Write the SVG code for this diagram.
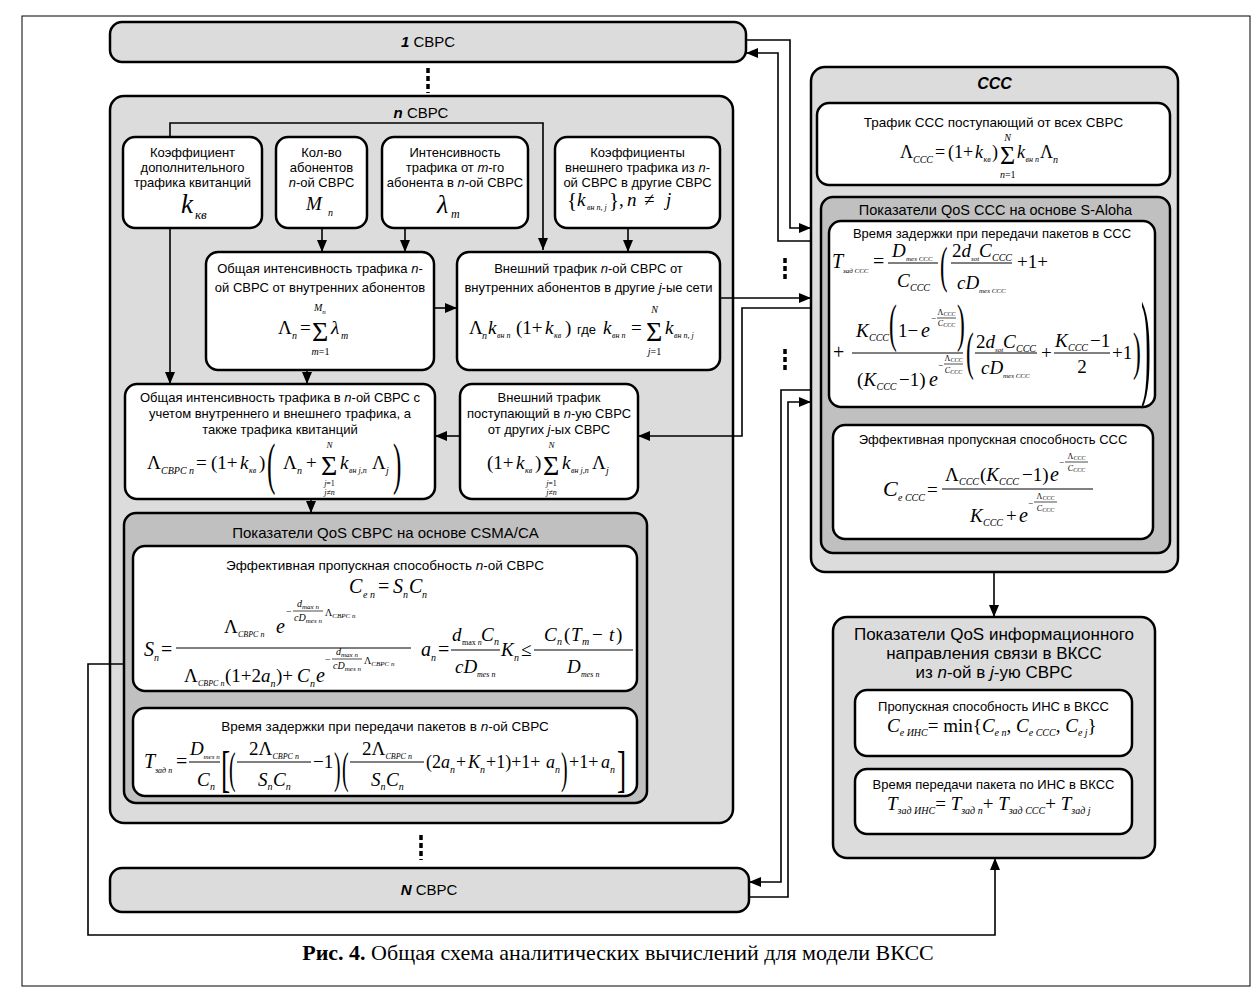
<svg xmlns="http://www.w3.org/2000/svg" width="1260" height="999" viewBox="0 0 1260 999">
<defs>
<style>
text{font-family:"Liberation Sans",Arial,sans-serif;fill:#000}
.lb{font-size:13px;text-anchor:middle}
.h{font-size:15px;text-anchor:middle}
.hq{font-size:17px;text-anchor:middle}
.i{font-style:italic}
.bi{font-style:italic;font-weight:bold}
.F{font-family:"Liberation Serif","Times New Roman",serif;font-size:19px}
.cap{font-family:"Liberation Serif","Times New Roman",serif;font-size:22px;text-anchor:middle}
.m{text-anchor:middle}
.b10{font-size:10px}
.b9{font-size:9px}
.b8{font-size:8px}
.b7{font-size:7px}
.b6{font-size:6px}
.S{font-size:28px}
.g1{fill:#dcdcdc;stroke:#000;stroke-width:2.5}
.g2{fill:#c0c0c0;stroke:#000;stroke-width:2.5}
.w{fill:#fff;stroke:#000;stroke-width:2.5}
.c{fill:none;stroke:#000;stroke-width:1.6}
.bar{stroke:#000;stroke-width:1;fill:none}
.sbar{stroke:#000;stroke-width:0.7;fill:none}
.dots{stroke:#000;stroke-width:3.5;stroke-dasharray:5 3;fill:none}
</style>
<marker id="ar" viewBox="0 0 12 10" refX="12" refY="5" markerWidth="12" markerHeight="10" markerUnits="userSpaceOnUse" orient="auto"><path d="M0,0L12,5L0,10z" fill="#000"/></marker>
</defs>
<rect x="22" y="16" width="1228" height="970" fill="none" stroke="#000" stroke-width="1"/>

<g id="node-1svrs">
<rect class="g1" x="110" y="22" width="636" height="40" rx="12"/>
<text class="h" x="428" y="47"><tspan class="bi">1</tspan> СВРС</text>
</g>
<path class="dots" d="M428,68V93"/>

<g id="node-nsvrs">
<rect class="g1" x="110" y="96" width="623" height="727" rx="14"/>
<text class="h" x="421" y="118"><tspan class="bi">n</tspan> СВРС</text>
</g>

<g id="node-kkv">
<rect class="w" x="123" y="137" width="139" height="91" rx="12"/>
<text class="lb" x="192.5" y="157">Коэффициент</text>
<text class="lb" x="192.5" y="172">дополнительного</text>
<text class="lb" x="192.5" y="187">трафика квитанций</text>
<text class="F"><tspan class="i" x="181" y="213" style="font-size:27px">k</tspan><tspan class="i" x="195" y="219" style="font-size:13px">кв</tspan></text>
</g>

<g id="node-mn">
<rect class="w" x="276" y="137" width="91" height="91" rx="12"/>
<text class="lb" x="321.5" y="157">Кол-во</text>
<text class="lb" x="321.5" y="172">абонентов</text>
<text class="lb" x="321.5" y="187"><tspan class="i">n</tspan>-ой СВРС</text>
<text class="F"><tspan class="i" x="306" y="210">M</tspan><tspan class="i b10" x="328" y="216">n</tspan></text>
</g>

<g id="node-lambda">
<rect class="w" x="382" y="137" width="146" height="91" rx="12"/>
<text class="lb" x="455" y="157">Интенсивность</text>
<text class="lb" x="455" y="172">трафика от <tspan class="i">m</tspan>-го</text>
<text class="lb" x="455" y="187">абонента в  <tspan class="i">n</tspan>-ой СВРС</text>
<text class="F"><tspan class="i" x="437" y="213" style="font-size:26px">λ</tspan><tspan class="i" x="451" y="218" style="font-size:12px">m</tspan></text>
</g>

<g id="node-coef">
<rect class="w" x="555" y="137" width="165" height="91" rx="12"/>
<text class="lb" x="637.5" y="157">Коэффициенты</text>
<text class="lb" x="637.5" y="172">внешнего трафика из  <tspan class="i">n</tspan>-</text>
<text class="lb" x="637.5" y="187">ой СВРС в другие СВРС</text>
<text class="F"><tspan x="567" y="207" style="font-size:21px">{</tspan><tspan class="i" x="577" y="206">k</tspan><tspan class="i b8" x="587" y="210">вн n, j</tspan><tspan x="609" y="207" style="font-size:21px">}</tspan><tspan x="619" y="206">,</tspan><tspan class="i" x="627" y="206">n</tspan><tspan x="644" y="206">≠</tspan><tspan class="i" x="666" y="206">j</tspan></text>
</g>

<g id="node-obsh">
<rect class="w" x="206" y="252" width="228" height="118" rx="12"/>
<text class="lb" x="320" y="273">Общая интенсивность трафика <tspan class="i">n</tspan>-</text>
<text class="lb" x="320" y="292">ой СВРС от внутренних абонентов</text>
<text class="F"><tspan x="278" y="334">Λ</tspan><tspan class="i b10" x="292" y="339">n</tspan><tspan x="300" y="334">=</tspan><tspan class="S" x="312" y="341">Σ</tspan><tspan class="i" x="331" y="334">λ</tspan><tspan class="i b10" x="341" y="339">m</tspan></text>
<text class="F i b10" x="314" y="311">M<tspan class="b7" dy="3">n</tspan></text>
<text class="F b10 m" x="320.5" y="355"><tspan class="i">m</tspan>=1</text>
</g>

<g id="node-vnesh">
<rect class="w" x="457" y="252" width="263" height="118" rx="12"/>
<text class="lb" x="588.5" y="273">Внешний трафик <tspan class="i">n</tspan>-ой СВРС от</text>
<text class="lb" x="588.5" y="292">внутренних абонентов в другие <tspan class="i">j</tspan>-ые сети</text>
<text class="F"><tspan x="469" y="334">Λ</tspan><tspan class="i b10" x="482" y="339">n</tspan><tspan class="i" x="488" y="334">k</tspan><tspan class="i b8" x="497" y="338">вн n</tspan><tspan x="516" y="334">(1+</tspan><tspan class="i" x="545" y="334">k</tspan><tspan class="i b8" x="554" y="338">кв</tspan><tspan x="565" y="334">)</tspan><tspan class="i" x="603" y="334">k</tspan><tspan class="i b8" x="612" y="338">вн n</tspan><tspan x="631" y="334">=</tspan><tspan class="S" x="646" y="341">Σ</tspan><tspan class="i" x="665" y="334">k</tspan><tspan class="i b8" x="674" y="338">вн n, j</tspan></text>
<text x="577" y="334" style="font-size:13px">где</text>
<text class="F i b10 m" x="654.5" y="313">N</text>
<text class="F b10 m" x="654.5" y="355"><tspan class="i">j</tspan>=1</text>
</g>

<g id="node-comb">
<rect class="w" x="125" y="384" width="310" height="115" rx="12"/>
<text class="lb" x="280" y="402">Общая интенсивность трафика в <tspan class="i">n</tspan>-ой СВРС с</text>
<text class="lb" x="280" y="418">учетом внутреннего и внешнего трафика, а</text>
<text class="lb" x="280" y="434">также трафика квитанций</text>
<text class="F"><tspan x="147" y="469">Λ</tspan><tspan class="i b10" x="161" y="474">СВРС n</tspan><tspan x="196" y="469">=</tspan><tspan x="211" y="469">(1+</tspan><tspan class="i" x="240" y="469">k</tspan><tspan class="i b8" x="249" y="473">кв</tspan><tspan x="259" y="469">)</tspan><tspan x="283" y="469">Λ</tspan><tspan class="i b10" x="297" y="474">n</tspan><tspan x="306" y="469">+</tspan><tspan class="S" x="321" y="475">Σ</tspan><tspan class="i" x="340" y="469">k</tspan><tspan class="i b8" x="349" y="473">вн j,n</tspan><tspan x="372" y="469">Λ</tspan><tspan class="i b10" x="386" y="474">j</tspan></text>
<text class="F" style="font-size:56px" transform="translate(267,483) scale(0.45,1)">(</text>
<text class="F" style="font-size:56px" transform="translate(393,483) scale(0.45,1)">)</text>
<text class="F i b9 m" x="329.5" y="448">N</text>
<text class="F b8 m" x="329.5" y="486"><tspan class="i">j</tspan>=1</text>
<text class="F b8 m i" x="329.5" y="495">j≠n</text>
</g>

<g id="node-post">
<rect class="w" x="460" y="384" width="178" height="115" rx="12"/>
<text class="lb" x="549" y="402">Внешний трафик</text>
<text class="lb" x="549" y="418">поступающий в <tspan class="i">n</tspan>-ую СВРС</text>
<text class="lb" x="549" y="434">от других <tspan class="i">j</tspan>-ых СВРС</text>
<text class="F"><tspan x="487" y="469">(1+</tspan><tspan class="i" x="516" y="469">k</tspan><tspan class="i b8" x="525" y="473">кв</tspan><tspan x="535" y="469">)</tspan><tspan class="S" x="543" y="475">Σ</tspan><tspan class="i" x="562" y="469">k</tspan><tspan class="i b8" x="571" y="473">вн j,n</tspan><tspan x="592" y="469">Λ</tspan><tspan class="i b10" x="606" y="474">j</tspan></text>
<text class="F i b9 m" x="551.5" y="448">N</text>
<text class="F b8 m" x="551.5" y="486"><tspan class="i">j</tspan>=1</text>
<text class="F b8 m i" x="551.5" y="495">j≠n</text>
</g>

<g id="node-csma">
<rect class="g2" x="124" y="513" width="523" height="290" rx="12"/>
<text class="h" x="385.5" y="538">Показатели QoS СВРС на основе CSMA/CA</text>
</g>

<g id="node-ceff">
<rect class="w" x="133" y="546" width="504" height="145" rx="12"/>
<text class="lb" x="385" y="570" style="font-size:13.5px">Эффективная пропускная способность <tspan class="i">n</tspan>-ой СВРС</text>
<text class="F" style="font-size:20px"><tspan class="i" x="349" y="593">C</tspan><tspan class="i b10" x="363" y="598">e n</tspan><tspan x="378" y="593">=</tspan><tspan class="i" x="393" y="593">S</tspan><tspan class="i b10" x="403" y="598">n</tspan><tspan class="i" x="409" y="593">C</tspan><tspan class="i b10" x="422" y="598">n</tspan></text>
<text class="F" style="font-size:20px"><tspan class="i" x="144" y="656">S</tspan><tspan class="i b10" x="154" y="661">n</tspan><tspan x="161" y="656">=</tspan></text>
<path class="bar" d="M176,648H411"/>
<text class="F"><tspan x="224" y="633">Λ</tspan><tspan class="i b8" x="238" y="637">СВРС n</tspan><tspan class="i" x="276" y="633" style="font-size:20px">e</tspan><tspan class="b10" x="286" y="615">−</tspan></text>
<path class="sbar" d="M293,611H323"/>
<text class="F i b10 m" x="308" y="607">d<tspan class="b7" dy="2">max n</tspan></text>
<text class="F i b10 m" x="308" y="621">cD<tspan class="b7" dy="2">mes n</tspan></text>
<text class="F b10" x="325" y="616">Λ<tspan class="i b7" dy="2">СВРС n</tspan></text>
<text class="F"><tspan x="184" y="682">Λ</tspan><tspan class="i b8" x="198" y="686">СВРС n</tspan><tspan x="225" y="682">(1+2</tspan><tspan class="i" x="261" y="682">a</tspan><tspan class="i b10" x="270.5" y="687">n</tspan><tspan x="276" y="682">)+</tspan><tspan class="i" x="297" y="682">C</tspan><tspan class="i b10" x="310" y="687">n</tspan><tspan class="i" x="316" y="682" style="font-size:20px">e</tspan><tspan class="b10" x="325" y="663">−</tspan></text>
<path class="sbar" d="M332,659H362"/>
<text class="F i b10 m" x="347" y="655">d<tspan class="b7" dy="2">max n</tspan></text>
<text class="F i b10 m" x="347" y="669">cD<tspan class="b7" dy="2">mes n</tspan></text>
<text class="F b10" x="364" y="664">Λ<tspan class="i b7" dy="2">СВРС n</tspan></text>
<text class="F" style="font-size:20px"><tspan class="i" x="421" y="656">a</tspan><tspan class="i b10" x="431" y="661">n</tspan><tspan x="438" y="656">=</tspan></text>
<path class="bar" d="M451,650H500"/>
<text class="F"><tspan class="i" x="452" y="641">d</tspan><tspan class="b8" x="462" y="645">max <tspan class="i">n</tspan></tspan><tspan class="i" x="481" y="641">C</tspan><tspan class="i b10" x="494" y="645">n</tspan></text>
<text class="F"><tspan class="i" x="455" y="673">cD</tspan><tspan class="i b8" x="477" y="677">mes n</tspan></text>
<text class="F"><tspan class="i" x="501" y="656">K</tspan><tspan class="i b10" x="514" y="661">n</tspan><tspan x="521" y="656">≤</tspan></text>
<path class="bar" d="M534,650H633"/>
<text class="F"><tspan class="i" x="544" y="641">C</tspan><tspan class="i b10" x="557" y="645">n</tspan><tspan x="564" y="641">(</tspan><tspan class="i" x="571" y="641">T</tspan><tspan class="i b10" x="582" y="645">m</tspan><tspan x="592" y="641">−</tspan><tspan class="i" x="609" y="641">t</tspan><tspan x="616" y="641">)</tspan></text>
<text class="F"><tspan class="i" x="567" y="673">D</tspan><tspan class="i b8" x="581" y="677">mes n</tspan></text>
</g>

<g id="node-tzad">
<rect class="w" x="133" y="708" width="504" height="88" rx="12"/>
<text class="lb" x="385" y="731" style="font-size:13.5px">Время задержки при передачи пакетов в <tspan class="i">n</tspan>-ой СВРС</text>
<text class="F" style="font-size:20px"><tspan class="i" x="144" y="768">T</tspan><tspan class="i b8" x="155" y="773">зад n</tspan><tspan x="176" y="768">=</tspan></text>
<path class="bar" d="M189,762H220"/>
<text class="F"><tspan class="i" x="190" y="755">D</tspan><tspan class="i b7" x="203.5" y="759">mes n</tspan><tspan class="i" x="197" y="786">C</tspan><tspan class="i b10" x="210" y="790">n</tspan></text>
<text class="F" style="font-size:50px" transform="translate(221,786) scale(0.55,1)">[</text>
<text class="F" style="font-size:44px" transform="translate(229,783) scale(0.45,1)">(</text>
<path class="bar" d="M237,762H311"/>
<text class="F"><tspan x="249" y="755">2Λ</tspan><tspan class="i b8" x="272.5" y="759">СВРС n</tspan><tspan class="i" x="258" y="786">S</tspan><tspan class="i b10" x="267.5" y="790">n</tspan><tspan class="i" x="273" y="786">C</tspan><tspan class="i b10" x="285.7" y="790">n</tspan></text>
<text class="F"><tspan x="313" y="768">−1</tspan></text>
<text class="F" style="font-size:44px" transform="translate(334,783) scale(0.45,1)">)</text>
<text class="F" style="font-size:44px" transform="translate(342,783) scale(0.45,1)">(</text>
<path class="bar" d="M350,762H424"/>
<text class="F"><tspan x="362" y="755">2Λ</tspan><tspan class="i b8" x="385.5" y="759">СВРС n</tspan><tspan class="i" x="371" y="786">S</tspan><tspan class="i b10" x="380.5" y="790">n</tspan><tspan class="i" x="386" y="786">C</tspan><tspan class="i b10" x="398.7" y="790">n</tspan></text>
<text class="F" style="font-size:18px"><tspan x="426" y="768">(2</tspan><tspan class="i" x="441" y="768">a</tspan><tspan class="i b10" x="450" y="773">n</tspan><tspan x="456" y="768">+</tspan><tspan class="i" x="468" y="768">K</tspan><tspan class="i b10" x="480" y="773">n</tspan><tspan x="486" y="768">+1)+1+</tspan><tspan class="i" x="546" y="768">a</tspan><tspan class="i b10" x="555" y="773">n</tspan></text>
<text class="F" style="font-size:44px" transform="translate(561,783) scale(0.45,1)">)</text>
<text class="F" style="font-size:18px"><tspan x="569" y="768">+1+</tspan><tspan class="i" x="601" y="768">a</tspan><tspan class="i b10" x="610" y="773">n</tspan></text>
<text class="F" style="font-size:50px" transform="translate(617,786) scale(0.55,1)">]</text>
</g>

<path class="dots" d="M421,835V860"/>

<g id="node-Nsvrs">
<rect class="g1" x="110" y="868" width="639" height="44" rx="12"/>
<text class="h" x="429" y="895"><tspan class="bi">N</tspan> СВРС</text>
</g>

<g id="node-ccc">
<rect class="g1" x="811" y="67" width="367" height="505" rx="14"/>
<text class="h" x="994.5" y="89" style="font-size:16px"><tspan class="bi">ССС</tspan></text>
</g>

<g id="node-ccc-traffic">
<rect class="w" x="817" y="103" width="353" height="82" rx="12"/>
<text class="lb" x="993.5" y="127" style="font-size:13.5px">Трафик ССС поступающий от всех СВРС</text>
<text class="F" style="font-size:18px"><tspan x="900" y="158">Λ</tspan><tspan class="i b10" x="913" y="163">ССС</tspan><tspan x="935" y="158">=</tspan><tspan x="948" y="158">(1+</tspan><tspan class="i" x="975" y="158">k</tspan><tspan class="i b8" x="983.5" y="162">кв</tspan><tspan x="992" y="158">)</tspan><tspan class="S" x="1000" y="164" style="font-size:26px">Σ</tspan><tspan class="i" x="1017" y="158">k</tspan><tspan class="i b8" x="1025.5" y="162">вн n</tspan><tspan x="1040" y="158">Λ</tspan><tspan class="i b10" x="1053" y="163">n</tspan></text>
<text class="F i b10 m" x="1007.7" y="141">N</text>
<text class="F b10 m" x="1007.7" y="178"><tspan class="i">n</tspan>=1</text>
</g>

<g id="node-aloha">
<rect class="g2" x="821" y="197" width="349" height="356" rx="12"/>
<text class="h" x="995.5" y="215" style="font-size:14.5px">Показатели QoS ССС на основе S-Aloha</text>
</g>

<g id="node-tccc">
<rect class="w" x="829" y="221" width="326" height="186" rx="12"/>
<text class="lb" x="992" y="238">Время задержки при передачи пакетов в ССС</text>
<text class="F" style="font-size:20px"><tspan class="i" x="832" y="268">T</tspan><tspan class="i b7" x="843" y="273">зад ССС</tspan><tspan x="873" y="268">=</tspan></text>
<path class="bar" d="M888,263H938"/>
<text class="F"><tspan class="i" x="892" y="257">D</tspan><tspan class="i b7" x="906" y="261">mes ССС</tspan><tspan class="i" x="897" y="287">C</tspan><tspan class="i b10" x="910" y="291">ССС</tspan></text>
<text class="F" style="font-size:50px" transform="translate(940,282) scale(0.45,1)">(</text>
<path class="bar" d="M951,263H1012"/>
<text class="F"><tspan x="952" y="257">2</tspan><tspan class="i" x="961.5" y="257">d</tspan><tspan class="i b7" x="971" y="261">sot</tspan><tspan class="i" x="979" y="257">C</tspan><tspan class="i b10" x="992" y="261">ССС</tspan></text>
<text class="F"><tspan class="i" x="957" y="289">cD</tspan><tspan class="i b7" x="979" y="293">mes ССС</tspan></text>
<text class="F"><tspan x="1017" y="268">+1+</tspan></text>
<text class="F" style="font-size:20px"><tspan x="833" y="359">+</tspan></text>
<path class="bar" d="M852,353H963"/>
<text class="F"><tspan class="i" x="856" y="337">K</tspan><tspan class="i b10" x="869" y="341">ССС</tspan></text>
<text class="F" style="font-size:52px" transform="translate(889,341) scale(0.45,1)">(</text>
<text class="F"><tspan x="898" y="337">1−</tspan><tspan class="i" x="921" y="337" style="font-size:20px">e</tspan><tspan class="b9" x="931" y="321">−</tspan></text>
<path class="sbar" d="M937,318H956"/>
<text class="F b8 m" x="946.5" y="315">Λ<tspan class="i b6" dy="1">ССС</tspan></text>
<text class="F b8 m i" x="946.5" y="326">C<tspan class="b6" dy="1">ССС</tspan></text>
<text class="F" style="font-size:52px" transform="translate(957,341) scale(0.45,1)">)</text>
<text class="F"><tspan x="857" y="386">(</tspan><tspan class="i" x="863.5" y="386">K</tspan><tspan class="i b10" x="876.5" y="390">ССС</tspan><tspan x="899" y="386">−1)</tspan><tspan class="i" x="929" y="386" style="font-size:20px">e</tspan><tspan class="b9" x="938" y="368">−</tspan></text>
<path class="sbar" d="M944,364H963"/>
<text class="F b8 m" x="953.5" y="361">Λ<tspan class="i b6" dy="1">ССС</tspan></text>
<text class="F b8 m i" x="953.5" y="373">C<tspan class="b6" dy="1">ССС</tspan></text>
<text class="F" style="font-size:52px" transform="translate(966,369) scale(0.45,1)">(</text>
<path class="bar" d="M975,353H1037"/>
<text class="F"><tspan x="976" y="348">2</tspan><tspan class="i" x="985.5" y="348">d</tspan><tspan class="i b7" x="995" y="352">sot</tspan><tspan class="i" x="1003" y="348">C</tspan><tspan class="i b10" x="1016" y="352">ССС</tspan></text>
<text class="F"><tspan class="i" x="981" y="374">cD</tspan><tspan class="i b7" x="1003" y="378">mes ССС</tspan></text>
<text class="F"><tspan x="1041" y="359">+</tspan></text>
<path class="bar" d="M1054,353H1110"/>
<text class="F"><tspan class="i" x="1055" y="347">K</tspan><tspan class="i b10" x="1068" y="351">ССС</tspan><tspan x="1090" y="347">−1</tspan></text>
<text class="F m" x="1082" y="373">2</text>
<text class="F"><tspan x="1112" y="359">+1</tspan></text>
<text class="F" style="font-size:52px" transform="translate(1133,369) scale(0.45,1)">)</text>
<text class="F" style="font-size:118px" transform="translate(1141,384) scale(0.25,1)">)</text>
</g>

<g id="node-ceccc">
<rect class="w" x="833" y="425" width="320" height="114" rx="12"/>
<text class="lb" x="993" y="444">Эффективная пропускная способность ССС</text>
<text class="F"><tspan class="i" x="883" y="496" style="font-size:22px">C</tspan><tspan class="i b10" x="898" y="501">e ССС</tspan><tspan x="927" y="496">=</tspan></text>
<path class="bar" d="M942,489H1093"/>
<text class="F"><tspan x="945" y="481">Λ</tspan><tspan class="i b10" x="959" y="485">ССС</tspan><tspan x="980" y="481">(</tspan><tspan class="i" x="986.3" y="481">K</tspan><tspan class="i b10" x="999" y="485">ССС</tspan><tspan x="1022" y="481">−1)</tspan><tspan class="i" x="1050" y="481" style="font-size:20px">e</tspan><tspan class="b9" x="1059" y="465">−</tspan></text>
<path class="sbar" d="M1065,462H1088"/>
<text class="F b8 m" x="1076.5" y="459">Λ<tspan class="i b6" dy="1">ССС</tspan></text>
<text class="F b8 m i" x="1076.5" y="471">C<tspan class="b6" dy="1">ССС</tspan></text>
<text class="F"><tspan class="i" x="970" y="522">K</tspan><tspan class="i b10" x="983" y="526">ССС</tspan><tspan x="1006" y="522">+</tspan><tspan class="i" x="1019" y="522" style="font-size:20px">e</tspan><tspan class="b9" x="1028" y="506">−</tspan></text>
<path class="sbar" d="M1034,502H1057"/>
<text class="F b8 m" x="1045.5" y="499">Λ<tspan class="i b6" dy="1">ССС</tspan></text>
<text class="F b8 m i" x="1045.5" y="511">C<tspan class="b6" dy="1">ССС</tspan></text>
</g>

<g id="node-qos">
<rect class="g1" x="833" y="617" width="322" height="241" rx="14"/>
<text class="hq" x="994" y="640">Показатели QoS информационного</text>
<text class="hq" x="994" y="659">направления связи в ВКСС</text>
<text class="hq" x="994" y="678">из <tspan class="i">n</tspan>-ой в <tspan class="i">j</tspan>-ую СВРС</text>
</g>

<g id="node-cins">
<rect class="w" x="855" y="690" width="277" height="66" rx="12"/>
<text class="lb" x="993.5" y="711">Пропускная способность ИНС в ВКСС</text>
<text class="F" x="887" y="732"><tspan class="i">C</tspan><tspan class="i b10" dy="4">e ИНС</tspan><tspan dy="-4">= min{</tspan><tspan class="i">C</tspan><tspan class="i b10" dy="4">e n</tspan><tspan dy="-4">, </tspan><tspan class="i">C</tspan><tspan class="i b10" dy="4">e ССС</tspan><tspan dy="-4">, </tspan><tspan class="i">C</tspan><tspan class="i b10" dy="4">e j</tspan><tspan dy="-4">}</tspan></text>
</g>

<g id="node-tins">
<rect class="w" x="855" y="769" width="277" height="65" rx="12"/>
<text class="lb" x="993.5" y="789">Время передачи пакета по ИНС в ВКСС</text>
<text class="F" x="887" y="810"><tspan class="i">T</tspan><tspan class="i b10" dy="4">зад ИНС</tspan><tspan dy="-4">= </tspan><tspan class="i">T</tspan><tspan class="i b10" dy="4">зад n</tspan><tspan dy="-4">+ </tspan><tspan class="i">T</tspan><tspan class="i b10" dy="4">зад ССС</tspan><tspan dy="-4">+ </tspan><tspan class="i">T</tspan><tspan class="i b10" dy="4">зад j</tspan></text>
</g>

<g id="connectors">
<path class="c" d="M170,137V123H543V250" marker-end="url(#ar)"/>
<path class="c" d="M170,228V384" marker-end="url(#ar)"/>
<path class="c" d="M322,228V252" marker-end="url(#ar)"/>
<path class="c" d="M405,228V252" marker-end="url(#ar)"/>
<path class="c" d="M628,228V252" marker-end="url(#ar)"/>
<path class="c" d="M434,308H457" marker-end="url(#ar)"/>
<path class="c" d="M307,370V384" marker-end="url(#ar)"/>
<path class="c" d="M460,436H435" marker-end="url(#ar)"/>
<path class="c" d="M311,499V513" marker-end="url(#ar)"/>
<path class="c" d="M746,40H790V228H811" marker-end="url(#ar)"/>
<path class="c" d="M811,241H778V53H746" marker-end="url(#ar)"/>
<path class="c" d="M720,298H811" marker-end="url(#ar)"/>
<path class="c" d="M811,308H742V436H638" marker-end="url(#ar)"/>
<path class="c" d="M811,390H781V882H749" marker-end="url(#ar)"/>
<path class="c" d="M749,897H788V402H811" marker-end="url(#ar)"/>
<path class="c" d="M994,572V617" marker-end="url(#ar)"/>
<path class="c" d="M124,664H88V935H995V858" marker-end="url(#ar)"/>
<path class="dots" d="M785,258V280"/>
<path class="dots" d="M785,349V371"/>
</g>

<g id="caption">
<text class="cap" x="618" y="960"><tspan font-weight="bold">Рис. 4.</tspan> Общая схема аналитических вычислений для модели ВКСС</text>
</g>
</svg>
